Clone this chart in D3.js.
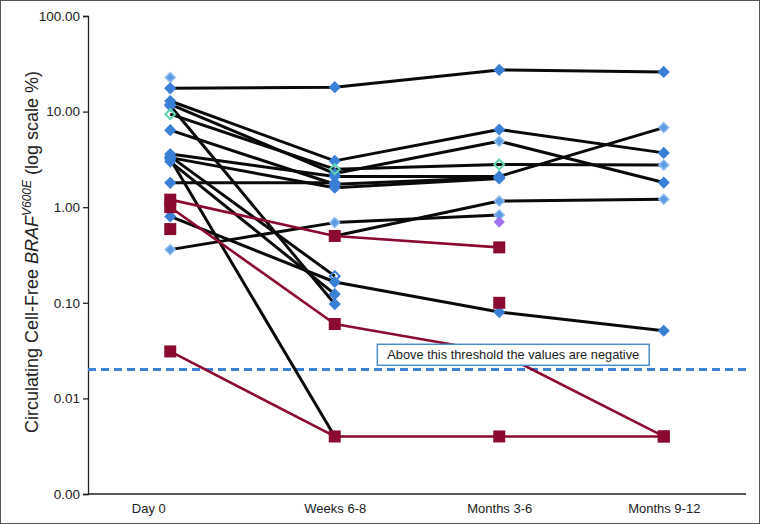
<!DOCTYPE html>
<html>
<head>
<meta charset="utf-8">
<script src="https://cdn.jsdelivr.net/npm/d3@7"></script>
<style>
  body { margin: 0; background: #fff; }
  svg { font-family: "Liberation Sans", Arial, sans-serif; display: block; }
</style>
</head>
<body>
<svg id="chart" width="760" height="524"></svg>
<script>
const CATEGORIES = ['Day 0', 'Weeks 6-8', 'Months 3-6', 'Months 9-12']
const Y_TICKS = [100, 10, 1, 0.1, 0.01, 0.001]
const THRESHOLD = 0.02
const NOTE = 'Above this threshold the values are negative'

// patients with positive/unknown course (blue diamonds, black lines)
const BLUE_VALUES = [
  [17.5, 18, 27.3, 26],
  [12.9, 3.05, 6.5, 3.7],
  [11.9, 2.25, 4.9, 1.81],
  [9.4, 2.5, 2.8, 2.77],
  [6.4, 1.74, 2.05, null],
  [3.6, 2.1, 2.1, 6.8],
  [3.3, 1.6, 2.0, null],
  [1.8, 1.8, null, null],
  [11.5, 0.097, null, null],
  [3.2, 0.004, null, null],
  [3.0, 0.123, null, null],
  [3.4, 0.19, null, null],
  [0.8, 0.165, 0.08, 0.051],
  [0.36, 0.69, 0.83, null],
  [null, 0.5, 1.16, 1.21],
  [22.8, null, null, null],
  [null, null, 0.70, null],
]
// marker kind for each point: s solid, l light, g green hollow, h blue hollow, p purple
const BLUE_KINDS = [
  ['s','s','s','s'],
  ['s','s','s','s'],
  ['s','s','l','s'],
  ['g','g','g','l'],
  ['s','s','s',''],
  ['s','s','s','l'],
  ['s','s','s',''],
  ['s','s','',''],
  ['s','s','',''],
  ['s','s','',''],
  ['s','s','',''],
  ['s','h','',''],
  ['s','s','s','s'],
  ['l','l','l',''],
  ['','s','l','l'],
  ['l','','',''],
  ['','','p',''],
]
// red squares, dark red lines
const RED_VALUES = [
  [1.2, 0.5, 0.38, null],
  [1.0, 0.06, 0.03, 0.004],
  [0.031, 0.004, 0.004, 0.004],
  [0.59, null, null, null],
  [null, null, 0.1, null],
]

const W = 760, H = 524
const margin = {left: 88, right: 14, top: 16, bottom: 30}
const BLUE = '#3a7fd6'
const RED = '#8a0b2f'

const svg = d3.select('#chart')

svg.append('rect')
  .attr('x', 0.5).attr('y', 0.5)
  .attr('width', W - 1).attr('height', H - 1)
  .attr('fill', '#fff').attr('stroke', '#555')

const x = d3.scalePoint()
  .domain(CATEGORIES)
  .range([margin.left, W - margin.right])
  .padding(0.5)

const y = d3.scaleLog()
  .domain([0.001, 100])
  .range([H - margin.bottom, margin.top])

// axes
const yAxis = svg.append('g')
  .attr('transform', 'translate(' + margin.left + ',0)')
  .call(d3.axisLeft(y).tickValues(Y_TICKS).tickSize(5).tickFormat(d3.format('.2f')))
yAxis.select('.domain').attr('stroke', '#222').attr('stroke-width', 1.3)
yAxis.selectAll('.tick line').attr('stroke', '#222').attr('stroke-width', 1.3)
yAxis.selectAll('.tick text').attr('font-size', 13.5).attr('fill', '#222')
  .attr('font-family', '"Liberation Sans", Arial, sans-serif')

const xAxis = svg.append('g')
  .attr('transform', 'translate(0,' + (H - margin.bottom) + ')')
  .call(d3.axisBottom(x).tickSize(0).tickPadding(10))
xAxis.select('.domain').attr('stroke', '#222').attr('stroke-width', 1.3)
  .attr('d', 'M' + margin.left + ',0H' + (W - margin.right))
xAxis.selectAll('.tick text').attr('font-size', 13).attr('fill', '#222')
  .attr('font-family', '"Liberation Sans", Arial, sans-serif')
  .attr('dx', (d, i) => i == 0 ? -22 : 0)

// y label
const ylab = svg.append('text')
  .attr('transform', 'translate(38,' + 252 + ') rotate(-90)')
  .attr('text-anchor', 'middle')
  .attr('font-size', 18)
  .attr('fill', '#222')
ylab.append('tspan').text('Circulating Cell-Free ')
ylab.append('tspan').attr('font-style', 'italic').text('BRAF')
ylab.append('tspan').attr('font-style', 'italic').attr('font-size', 12).attr('dy', -7).text('V600E')
ylab.append('tspan').attr('dy', 7).text(' (log scale %)')

// threshold
svg.append('line')
  .attr('x1', margin.left).attr('x2', W - margin.right)
  .attr('y1', y(THRESHOLD)).attr('y2', y(THRESHOLD))
  .attr('stroke', '#3f83d4').attr('stroke-width', 3)
  .attr('stroke-dasharray', '8,5')

const line = d3.line()
  .defined(d => d.v != null)
  .x(d => x(d.cat))
  .y(d => y(d.v))

function points(values){
  return values.map((v, i) => ({cat: CATEGORIES[i], v: v}))
}

function drawLines(data, color, width){
  svg.append('g').selectAll('path').data(data)
    .enter().append('path')
      .attr('d', d => line(points(d)))
      .attr('fill', 'none')
      .attr('stroke', color)
      .attr('stroke-width', width)
      .attr('stroke-linejoin', 'round')
}

drawLines(BLUE_VALUES, '#0a0a0a', 3)
drawLines(RED_VALUES, RED, 2.6)

// blue markers
const diamond = d3.symbol().type(d3.symbolDiamond2)
const blueMarks = []
BLUE_VALUES.forEach((s, si) => s.forEach((v, i) => {
  if(v != null && BLUE_KINDS[si][i]) blueMarks.push({cat: CATEGORIES[i], v: v, kind: BLUE_KINDS[si][i]})
}))
const order = {l: 0, s: 1, p: 2, h: 3, g: 4}
blueMarks.sort((a, b) => order[a.kind] - order[b.kind])

svg.append('g').selectAll('path').data(blueMarks)
  .enter().append('path')
    .attr('transform', d => 'translate(' + x(d.cat) + ',' + y(d.v) + ')')
    .attr('d', d => diamond.size(d.kind == 's' ? 95 : (d.kind == 'p' ? 80 : 62))())
    .attr('fill', d => d.kind == 's' ? BLUE : d.kind == 'l' ? '#5b9be3' : d.kind == 'p' ? '#a070ee' : 'none')
    .attr('stroke', d => d.kind == 'g' ? '#5fd6b0' : d.kind == 'h' ? BLUE : d.kind == 'l' ? '#8dbbec' : 'none')
    .attr('stroke-width', d => d.kind == 'l' ? 1.5 : 2)

// red squares
const redMarks = []
RED_VALUES.forEach(s => s.forEach((v, i) => {
  if(v != null) redMarks.push({cat: CATEGORIES[i], v: v})
}))
svg.append('g').selectAll('rect').data(redMarks)
  .enter().append('rect')
    .attr('x', d => x(d.cat) - 6)
    .attr('y', d => y(d.v) - 6)
    .attr('width', 12).attr('height', 12)
    .attr('fill', RED)

// note box
const note = svg.append('g')
  .attr('transform', 'translate(' + (x('Months 3-6') + 14) + ',' + (y(0.03) + 2) + ')')
const noteText = note.append('text')
  .attr('text-anchor', 'middle')
  .attr('dy', '0.35em')
  .attr('font-size', 12.8)
  .attr('fill', '#222')
  .text(NOTE)
const bb = noteText.node().getBBox()
note.insert('rect', 'text')
  .attr('x', bb.x - 10).attr('y', -10.5)
  .attr('width', bb.width + 20).attr('height', 21)
  .attr('fill', '#fff')
  .attr('stroke', '#4a8fcf').attr('stroke-width', 1.5)
</script>
</body>
</html>
